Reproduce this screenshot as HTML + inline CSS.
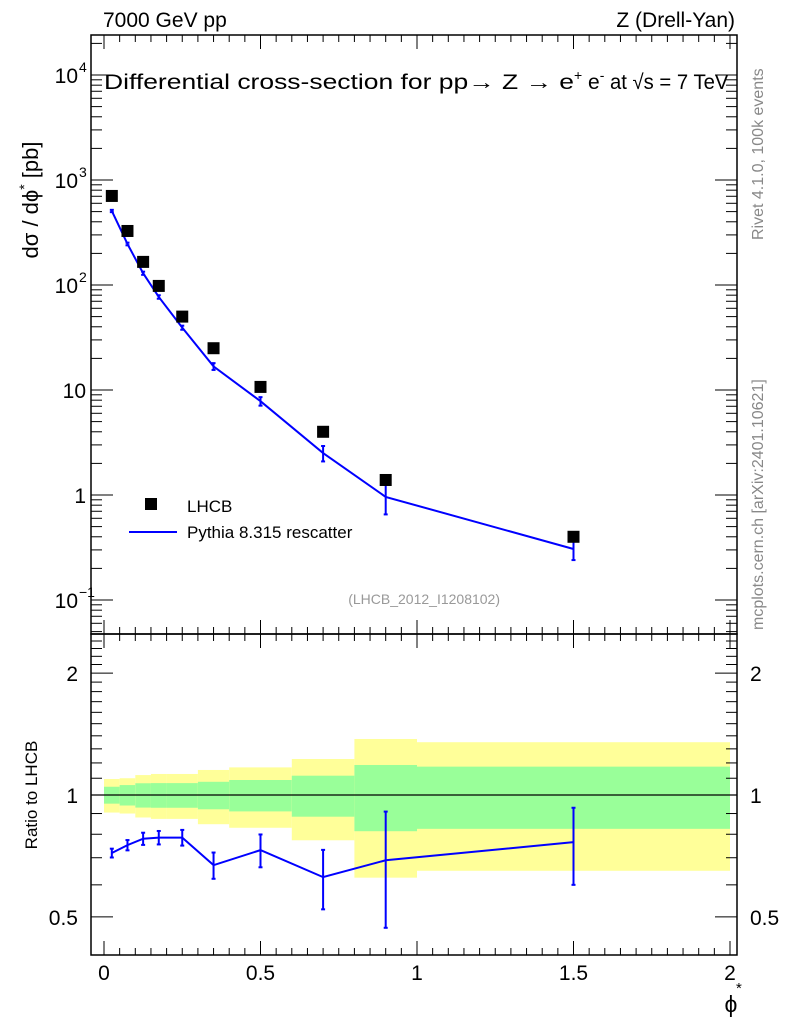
<!DOCTYPE html>
<html><head><meta charset="utf-8"><style>body{margin:0;background:#fff}svg{display:block;font-family:"Liberation Sans",sans-serif}</style></head>
<body>
<svg id="c" width="786" height="1024"></svg>
<script>
const phi=[0.025,0.075,0.125,0.175,0.25,0.35,0.5,0.7,0.9,1.5];
const dataVals=[705,327,166,98,50,25,10.7,4.0,1.39,0.40];
const mcRatio=[0.719,0.752,0.78,0.785,0.785,0.671,0.731,0.627,0.69,0.765];
const mcRatioErr=[0.018,0.022,0.027,0.03,0.035,0.05,0.068,0.105,0.22,0.165];
const binEdges=[0,0.05,0.1,0.15,0.2,0.3,0.4,0.6,0.8,1.0,2.0];
const statErr=[0.048,0.058,0.069,0.07,0.07,0.078,0.089,0.116,0.186,0.175];
const totErr=[0.095,0.10,0.12,0.127,0.127,0.153,0.17,0.227,0.375,0.35];
const xTicks=[0,0.5,1,1.5,2];
const ratioTicks=[0.5,1,2];

const NS="http://www.w3.org/2000/svg",svg=document.getElementById('c');
function el(t,a,txt){const e=document.createElementNS(NS,t);for(const k in a)e.setAttribute(k,a[k]);if(txt!==undefined)e.textContent=txt;svg.appendChild(e);return e;}
const L=91,R=737,T=35,M=634,B=955;
const X=v=>104+313*v;
const Y=v=>180-105*(Math.log10(v)-3);
const YR=v=>795-405*Math.log10(v);

for(let i=0;i<totErr.length;i++){
 const x0=X(binEdges[i]),x1=X(binEdges[i+1]);
 let r=el('rect',{x:x0,y:YR(1+totErr[i]),width:x1-x0,height:YR(1-totErr[i])-YR(1+totErr[i]),fill:'#ffff99'});
 
 r=el('rect',{x:x0,y:YR(1+statErr[i]),width:x1-x0,height:YR(1-statErr[i])-YR(1+statErr[i]),fill:'#99ff99'});
 
}
let ln=el('line',{x1:L,x2:R,y1:YR(1),y2:YR(1),stroke:'#000','stroke-width':1.2});


for(const [y0,y1,n] of [[T,M,'main-frame'],[M,B,'ratio-frame']]){
 const f=el('rect',{x:L,y:y0,width:R-L,height:y1-y0,fill:'none',stroke:'#000','stroke-width':1.5});
 
}
for(let v=0;v<=2.0001;v+=0.1){
 const major=Math.abs(v*2-Math.round(v*2))<1e-6,len=major?14:7,x=X(v);
 for(const [y,d] of [[T,1],[M,-1],[M,1],[B,-1]]) el('line',{x1:x,x2:x,y1:y,y2:y+d*len,stroke:'#000','stroke-width':1});
 if(v>0.05){const x2=X(v-0.05);for(const [y,d] of [[T,1],[M,-1],[M,1],[B,-1]]) el('line',{x1:x2,x2:x2,y1:y,y2:y+d*7,stroke:'#000','stroke-width':1});}
}
xTicks.forEach(v=>{const t=el('text',{x:X(v),y:980,'font-size':21,'text-anchor':'middle'},String(v));});
for(let d=-2;d<=4;d++)for(let m=1;m<10;m++){const v=m*Math.pow(10,d),y=Y(v);if(y<T||y>M)continue;const len=m==1?22:11;
 el('line',{x1:L,x2:L+len,y1:y,y2:y,stroke:'#000'});el('line',{x1:R,x2:R-len,y1:y,y2:y,stroke:'#000'});}
const yLab=[[1e-1,'10','−1'],[1,'1'],[10,'10'],[100,'10','2'],[1000,'10','3'],[1e4,'10','4']];
yLab.forEach(([v,b,e])=>{const t=el('text',{x:e?78:86,y:Y(v)+8,'font-size':21,'text-anchor':'end'},b);
 
 if(e)el('text',{x:79,y:Y(v)-3,'font-size':14},e);});
for(let v=0.4;v<=2.51;v+=0.1){const y=YR(v);if(y<M||y>B)continue;const maj=ratioTicks.some(t=>Math.abs(t-v)<1e-6);const len=maj?22:11;
 el('line',{x1:L,x2:L+len,y1:y,y2:y,stroke:'#000'});el('line',{x1:R,x2:R-len,y1:y,y2:y,stroke:'#000'});}
ratioTicks.forEach(v=>{let t=el('text',{x:78,y:YR(v)+8,'font-size':21,'text-anchor':'end'},String(v));
 t=el('text',{x:750,y:YR(v)+8,'font-size':21},String(v));});

const mcVals=phi.map((p,i)=>mcRatio[i]*dataVals[i]);
let pts=phi.map((p,i)=>X(p)+','+Y(mcVals[i])).join(' ');
let pl=el('polyline',{points:pts,fill:'none',stroke:'#0000ff','stroke-width':2});
phi.forEach((p,i)=>{const rel=mcRatioErr[i]/mcRatio[i];const x=X(p),y0=Y(mcVals[i]*(1+rel)),y1=Y(mcVals[i]*(1-rel));
 const e=el('line',{x1:x,x2:x,y1:y0,y2:y1,stroke:'#0000ff','stroke-width':2});
 el('line',{x1:x-2,x2:x+2,y1:y0,y2:y0,stroke:'#0000ff','stroke-width':2});el('line',{x1:x-2,x2:x+2,y1:y1,y2:y1,stroke:'#0000ff','stroke-width':2});});
phi.forEach((p,i)=>{const r=el('rect',{x:X(p)-6,y:Y(dataVals[i])-6,width:12,height:12,fill:'#000'});});
pts=phi.map((p,i)=>X(p)+','+YR(mcRatio[i])).join(' ');
pl=el('polyline',{points:pts,fill:'none',stroke:'#0000ff','stroke-width':2});
phi.forEach((p,i)=>{const x=X(p),y0=YR(mcRatio[i]+mcRatioErr[i]),y1=YR(mcRatio[i]-mcRatioErr[i]);
 const e=el('line',{x1:x,x2:x,y1:y0,y2:y1,stroke:'#0000ff','stroke-width':2});
 el('line',{x1:x-2,x2:x+2,y1:y0,y2:y0,stroke:'#0000ff','stroke-width':2});el('line',{x1:x-2,x2:x+2,y1:y1,y2:y1,stroke:'#0000ff','stroke-width':2});});
</script>
<svg width="786" height="1024" style="position:absolute;left:0;top:0" font-family="Liberation Sans, sans-serif">
<text x="103" y="27" font-size="21">7000 GeV pp</text>
<text x="735" y="27" font-size="21" text-anchor="end">Z (Drell-Yan)</text>
<text x="104" y="89" font-size="21"><tspan textLength="470" lengthAdjust="spacingAndGlyphs">Differential cross-section for pp→  Z →  e</tspan><tspan font-size="14" dy="-9">+</tspan><tspan dy="9"> e</tspan><tspan font-size="14" dy="-9">-</tspan><tspan dy="9" textLength="124" lengthAdjust="spacingAndGlyphs"> at √s = 7 TeV</tspan></text>
<text transform="translate(38,200) rotate(-90)" font-size="22" text-anchor="middle">dσ / dϕ<tspan font-size="14" dy="-9">*</tspan><tspan dy="9"> [pb]</tspan></text>
<text transform="translate(37,795) rotate(-90)" font-size="17" text-anchor="middle">Ratio to LHCB</text>
<text x="731" y="1012" font-size="23" text-anchor="middle">ϕ</text>
<text x="736" y="993" font-size="15">*</text>
<rect x="145" y="498" width="12" height="12" fill="#000"/>
<text x="187" y="512" font-size="17">LHCB</text>
<line x1="129" x2="177" y1="532" y2="532" stroke="#0000ff" stroke-width="2"/>
<text x="187" y="538" font-size="17">Pythia 8.315 rescatter</text>
<text x="500" y="604" font-size="14" fill="#999" text-anchor="end">(LHCB_2012_I1208102)</text>
<text transform="translate(763,240) rotate(-90)" font-size="16" fill="#888">Rivet 4.1.0,  100k events</text>
<text transform="translate(763,630) rotate(-90)" font-size="16" fill="#888">mcplots.cern.ch [arXiv:2401.10621]</text>
</svg>
</body></html>
